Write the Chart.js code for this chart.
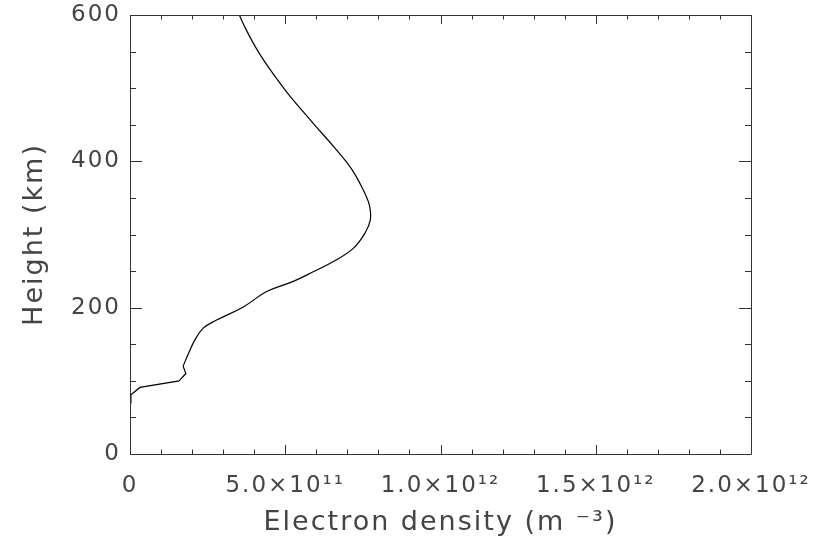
<!DOCTYPE html>
<html>
<head>
<meta charset="utf-8">
<script src="https://cdn.jsdelivr.net/npm/chart.js@4/dist/chart.umd.min.js"></script>
<style>
  html, body { margin: 0; padding: 0; background: #fff; }
  #wrap { width: 822px; height: 545px; position: relative; }
</style>
</head>
<body>
<div id="wrap"><canvas id="c"></canvas></div>
<script>
// ---- data ----
const density = [0, 0.003e12, 0.032e12, 0.158e12, 0.180e12, 0.171e12, 0.188e12, 0.209e12, 0.236e12, 0.274e12,
  0.365e12, 0.440e12, 0.526e12, 0.590e12, 0.655e12, 0.719e12, 0.757e12, 0.774e12, 0.772e12, 0.761e12,
  0.716e12, 0.656e12, 0.590e12, 0.508e12, 0.452e12, 0.410e12, 0.374e12, 0.352e12];
const height = [70, 81, 91, 100, 110, 120, 137, 156, 172, 182,
  201, 222, 236, 249, 263, 281, 302, 320, 338, 352,
  388, 420, 452, 493, 525, 552, 580, 600];
const smoothFrom = 5; // index where the profile becomes smooth

const xTickValues = [0, 5e11, 1e12, 1.5e12, 2e12];
const xTickLabels = ['0', '5.0×10¹¹', '1.0×10¹²', '1.5×10¹²', '2.0×10¹²'];
const yTickValues = [0, 200, 400, 600];
const yTickLabels = ['0', '200', '400', '600'];
const xMinorPerMajor = 5;
const yMinorPerMajor = 4;
const xTitle = 'Electron density (m ⁻³)';
const yTitle = 'Height (km)';

const points = density.map((d, i) => ({ x: d, y: height[i] }));
const lowerPts = points.slice(0, smoothFrom + 1);
const upperPts = points.slice(smoothFrom);

const FONT = "'DejaVu Sans', sans-serif";
const TEXT = '#444';
const SPACING = '2px';

const spacingPlugin = {
  id: 'spacing',
  beforeLayout(chart) { chart.ctx.letterSpacing = SPACING; },
  beforeDraw(chart) { chart.ctx.letterSpacing = SPACING; }
};

const framePlugin = {
  id: 'frame',
  afterDatasetsDraw(chart) {
    const ctx = chart.ctx;
    const a = chart.chartArea;
    const xs = chart.scales.x, ys = chart.scales.y;
    ctx.save();
    ctx.strokeStyle = '#333';
    ctx.lineWidth = 1;
    ctx.beginPath();
    ctx.rect(Math.round(a.left) + 0.5, Math.round(a.top) + 0.5,
             Math.round(a.right - a.left), Math.round(a.bottom - a.top));
    ctx.stroke();
    const majX = 9, minX = 4.5, majY = 12, minY = 6;
    ctx.beginPath();
    for (let i = 0; i < xTickValues.length; i++) {
      const v = xTickValues[i];
      const px = Math.round(xs.getPixelForValue(v)) + 0.5;
      ctx.moveTo(px, a.bottom); ctx.lineTo(px, a.bottom - majX);
      ctx.moveTo(px, a.top); ctx.lineTo(px, a.top + majX);
      if (i < xTickValues.length - 1) {
        const step = (xTickValues[i + 1] - v) / xMinorPerMajor;
        for (let k = 1; k < xMinorPerMajor; k++) {
          const mx = Math.round(xs.getPixelForValue(v + k * step)) + 0.5;
          ctx.moveTo(mx, a.bottom); ctx.lineTo(mx, a.bottom - minX);
          ctx.moveTo(mx, a.top); ctx.lineTo(mx, a.top + minX);
        }
      }
    }
    for (let i = 0; i < yTickValues.length; i++) {
      const v = yTickValues[i];
      const py = Math.round(ys.getPixelForValue(v)) + 0.5;
      ctx.moveTo(a.left, py); ctx.lineTo(a.left + majY, py);
      ctx.moveTo(a.right, py); ctx.lineTo(a.right - majY, py);
      if (i < yTickValues.length - 1) {
        const step = (yTickValues[i + 1] - v) / yMinorPerMajor;
        for (let k = 1; k < yMinorPerMajor; k++) {
          const my = Math.round(ys.getPixelForValue(v + k * step)) + 0.5;
          ctx.moveTo(a.left, my); ctx.lineTo(a.left + minY, my);
          ctx.moveTo(a.right, my); ctx.lineTo(a.right - minY, my);
        }
      }
    }
    ctx.stroke();
    ctx.restore();
  }
};

const lineStyle = { showLine: true, borderColor: '#000', borderWidth: 1.2, pointRadius: 0, fill: false };

new Chart(document.getElementById('c'), {
  type: 'scatter',
  data: {
    datasets: [
      Object.assign({ data: lowerPts, tension: 0 }, lineStyle),
      Object.assign({ data: upperPts, tension: 0.4 }, lineStyle)
    ]
  },
  plugins: [spacingPlugin, framePlugin],
  options: {
    responsive: true,
    maintainAspectRatio: false,
    animation: false,
    devicePixelRatio: 1,
    layout: { padding: { left: 0, right: 71, top: 15, bottom: 0 } },
    plugins: { legend: { display: false }, tooltip: { enabled: false } },
    scales: {
      x: {
        type: 'linear',
        min: 0, max: 2e12,
        afterBuildTicks(scale) { scale.ticks = xTickValues.map(v => ({ value: v })); },
        afterFit(scale) { scale.height = 91; scale.paddingLeft = 0; scale.paddingRight = 0; },
        ticks: {
          callback: (v, i) => xTickLabels[i],
          color: TEXT,
          font: { family: FONT, size: 23 },
          padding: 18,
          maxRotation: 0, minRotation: 0, autoSkip: false
        },
        grid: { display: false, drawTicks: false },
        border: { display: false },
        title: {
          display: true, text: xTitle, color: TEXT,
          font: { family: FONT, size: 27 },
          padding: { top: 0, bottom: 6 }
        }
      },
      y: {
        type: 'linear',
        min: 0, max: 600,
        afterBuildTicks(scale) { scale.ticks = yTickValues.map(v => ({ value: v })); },
        afterFit(scale) { scale.width = 130; scale.paddingTop = 0; scale.paddingBottom = 0; },
        ticks: {
          callback: (v, i) => yTickLabels[i],
          color: TEXT,
          font: { family: FONT, size: 23 },
          padding: 9,
          autoSkip: false
        },
        grid: { display: false, drawTicks: false },
        border: { display: false },
        title: {
          display: true, text: yTitle, color: TEXT,
          font: { family: FONT, size: 27 },
          padding: { top: 19, bottom: 0 }
        }
      }
    }
  }
});
</script>
</body>
</html>
